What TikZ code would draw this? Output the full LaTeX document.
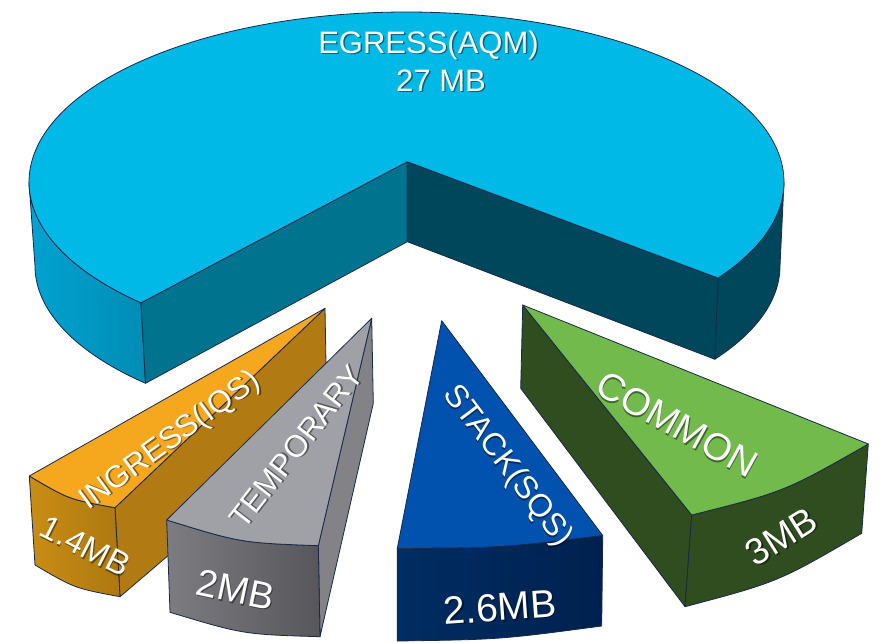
\documentclass[tikz,border=0pt]{standalone}
\usepackage{fontspec}
\setmainfont{Liberation Sans}
\usetikzlibrary{calc}

\definecolor{edge}{HTML}{17284A}
\definecolor{cyTop}{HTML}{00B9E6}
\definecolor{cyWallL}{HTML}{00A3D1}
\definecolor{cyWallR}{HTML}{008CB4}
\definecolor{cyCutL}{HTML}{00738F}
\definecolor{cyCutR}{HTML}{00475B}
\definecolor{orTop}{HTML}{F5A81D}
\definecolor{orSide}{HTML}{B27A12}
\definecolor{orFrontL}{HTML}{C88D14}
\definecolor{orFrontR}{HTML}{AE7810}
\definecolor{grTop}{HTML}{A0A1A6}
\definecolor{grSide}{HTML}{828287}
\definecolor{grFrontL}{HTML}{7C7C81}
\definecolor{grFrontR}{HTML}{57575B}
\definecolor{blTop}{HTML}{0052AE}
\definecolor{blFrontL}{HTML}{002D63}
\definecolor{blFrontR}{HTML}{00214F}
\definecolor{gnTop}{HTML}{71BA4B}
\definecolor{gnDark}{HTML}{304D1F}

% white text with a soft dark drop shadow behind it
\newcommand{\shadowtext}[1]{%
  \rlap{\kern1.4pt\raisebox{-1.4pt}{\pgfsetfillopacity{0.45}\textcolor{black}{#1}}}%
  \pgfsetfillopacity{1}\textcolor{white}{#1}}

\begin{document}
\begin{tikzpicture}[x=1pt, y=-1pt,
  face/.style={draw=edge, line width=0.8pt, line join=round},
  lbl/.style={inner sep=0pt}]
\useasboundingbox (0,0) rectangle (882,642);

% ---- large slice: EGRESS ----
\coordinate (ct) at (406.5,182);
\coordinate (cb) at (407.5,266);
\coordinate (apx) at (407.3,161.7);
\coordinate (apxb) at (407.3,241.7);
\coordinate (lt) at ($(ct)+(134.7:377.5 and 170)$);
\coordinate (lb) at ($(cb)+(134.7:372.5 and 165)$);
\coordinate (rt) at ($(ct)+(34.4:377.5 and 170)$);
\coordinate (rb) at ($(cb)+(34.4:372.5 and 165)$);

% outer walls
\path[face, left color=cyWallL, right color=cyWallR]
  ($(ct)+(180:377.5 and 170)$) arc[start angle=180, end angle=134.7, x radius=377.5, y radius=170]
  -- (lb) arc[start angle=134.7, end angle=180, x radius=372.5, y radius=165] -- cycle;
\path[face, fill=cyCutR]
  (rt) arc[start angle=34.4, end angle=0, x radius=377.5, y radius=170]
  -- ($(cb)+(0:372.5 and 165)$) arc[start angle=0, end angle=34.4, x radius=372.5, y radius=165] -- cycle;
% cut faces
\path[face, fill=cyCutL] (apx) -- (lt) -- (lb) -- (apxb) -- cycle;
\path[face, fill=cyCutR] (apx) -- (rt) -- (rb) -- (apxb) -- cycle;
% top
\path[face, fill=cyTop] (apx) -- (lt)
  arc[start angle=134.7, end angle=394.4, x radius=377.5, y radius=170] -- cycle;

% ---- INGRESS slice ----
\coordinate (oA) at (325,308.3);
\coordinate (oB) at (29.3,476);
\coordinate (oC) at (115,507.7);
\coordinate (oD) at (35,565);
\coordinate (oE) at (120,596.7);
\coordinate (oAb) at (327,420);
\path[face, fill=orSide] (oA) -- (oC) -- (oE) -- (oAb) -- cycle;
\path[face, left color=orFrontL, right color=orFrontR]
  (oB) .. controls (69.2,499.5) .. (oC) -- (oE) .. controls (74.7,588.3) .. (oD) -- cycle;
\path[face, fill=orTop] (oA) -- (oB) .. controls (69.2,499.5) .. (oC) -- cycle;

% ---- TEMPORARY slice ----
\coordinate (gA) at (371.7,318.3);
\coordinate (gL) at (166.7,520);
\coordinate (gR) at (318.3,545.7);
\coordinate (gLb) at (170,612.3);
\coordinate (gRb) at (320,636.7);
\coordinate (gAb) at (373.3,403.3);
\path[face, fill=grSide] (gA) -- (gR) -- (gRb) -- (gAb) -- cycle;
\path[face, left color=grFrontL, right color=grFrontR]
  (gL) .. controls (240.8,542.8) .. (gR) -- (gRb) .. controls (243.3,634.4) .. (gLb) -- cycle;
\path[face, fill=grTop] (gA) -- (gL) .. controls (240.8,542.8) .. (gR) -- cycle;

% ---- STACK slice ----
\coordinate (bA) at (441.7,320.7);
\coordinate (bL) at (397.3,548.3);
\coordinate (bR) at (602.7,535.5);
\coordinate (bLb) at (397.3,641);
\coordinate (bRb) at (601.7,626);
\path[face, left color=blFrontL, right color=blFrontR]
  (bL) .. controls (500.4,547.9) .. (bR) -- (bRb) .. controls (499.9,639.5) .. (bLb) -- cycle;
\path[face, fill=blTop] (bA) -- (bL) .. controls (500.4,547.9) .. (bR) -- cycle;

% ---- COMMON slice ----
\coordinate (nA) at (522.7,305);
\coordinate (nAb) at (520.7,388.3);
\coordinate (nL) at (691.7,515);
\coordinate (nLb) at (685,606.7);
\coordinate (nR) at (868.3,444);
\coordinate (nRb) at (861.7,533.3);
\path[face, fill=gnDark] (nA) -- (nL) -- (nLb) -- (nAb) -- cycle;
\path[face, fill=gnDark]
  (nL) .. controls (784.8,491.6) .. (nR) -- (nRb) .. controls (778.1,582) .. (nLb) -- cycle;
\path[face, fill=gnTop] (nA) -- (nL) .. controls (784.8,491.6) .. (nR) -- cycle;

% ---- labels ----
\node[lbl, font=\fontsize{31}{31}\selectfont] (egress) at (428.5,46) {\shadowtext{EGRESS(AQM)}};
\node[lbl, font=\fontsize{31}{31}\selectfont] (egressmb) at (441,81) {\shadowtext{27 MB}};
\node[lbl, rotate=36, font=\fontsize{31}{31}\selectfont] (ingress) at (170.7,441.7) {\shadowtext{INGRESS(IQS)}};
\node[lbl, rotate=-27, font=\fontsize{33}{33}\selectfont] (ingressmb) at (85,546.7) {\shadowtext{1.4MB}};
\node[lbl, rotate=52, font=\fontsize{31}{31}\selectfont] (temp) at (296.7,447.3) {\shadowtext{TEMPORARY}};
\node[lbl, rotate=-12, font=\fontsize{38}{38}\selectfont] (tempmb) at (235.7,590) {\shadowtext{2MB}};
\node[lbl, rotate=-53, font=\fontsize{32}{32}\selectfont] (stack) at (506.7,466.7) {\shadowtext{STACK(SQS)}};
\node[lbl, rotate=4, font=\fontsize{39}{39}\selectfont] (stackmb) at (500,608) {\shadowtext{2.6MB}};
\node[lbl, rotate=-29, font=\fontsize{38}{38}\selectfont] (common) at (676.7,425) {\shadowtext{COMMON}};
\node[lbl, rotate=32, font=\fontsize{37}{37}\selectfont] (commonmb) at (781.7,537.3) {\shadowtext{3MB}};
\end{tikzpicture}
\end{document}
